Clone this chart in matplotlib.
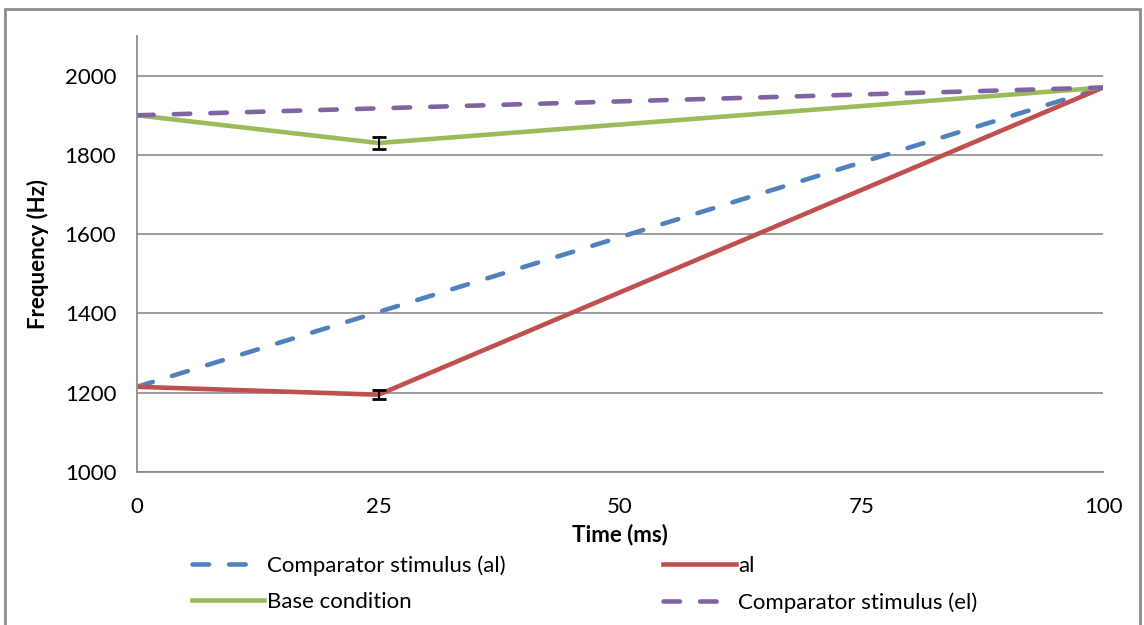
import matplotlib.pyplot as plt
from matplotlib.patches import Rectangle

# time points (ms)
time_ms = [0, 25, 100]
time_cmp = [0, 100]

# frequencies (Hz)
freq_cmp_al = [1215, 1970]
freq_al = [1215, 1195, 1970]
freq_base = [1900, 1830, 1970]
freq_cmp_el = [1900, 1970]

# error bars at 25 ms
err_al = [0, 12, 0]
err_base = [0, 15, 0]

blue = "#4F81BD"
red = "#C0504D"
green = "#9BBB59"
purple = "#8064A2"
gray = "#8C8C8C"

plt.rcParams["font.family"] = ["Lato", "DejaVu Sans"]
fs = 16

fig = plt.figure(figsize=(11.44, 6.25), dpi=100)
ax = fig.add_axes([0.1198, 0.2448, 0.8444, 0.6976])

lw = 3.3
l1, = ax.plot(time_cmp, freq_cmp_al, color=blue, lw=lw, dashes=(3.6, 4.4),
              dash_capstyle="round", label="Comparator stimulus (al)")
l2, = ax.plot(time_ms, freq_al, color=red, lw=lw, label="al")
l3, = ax.plot(time_ms, freq_base, color=green, lw=lw, label="Base condition")
l4, = ax.plot(time_cmp, freq_cmp_el, color=purple, lw=lw, dashes=(3.6, 4.4),
              dash_capstyle="round", label="Comparator stimulus (el)")

ax.errorbar(time_ms[1], freq_al[1], yerr=err_al[1], fmt="none", ecolor="black",
            elinewidth=1.5, capsize=5, capthick=2, zorder=5)
ax.errorbar(time_ms[1], freq_base[1], yerr=err_base[1], fmt="none", ecolor="black",
            elinewidth=1.5, capsize=5, capthick=2, zorder=5)

ax.set_xlim(0, 100)
ax.set_ylim(1000, 2100)
ax.set_xticks([0, 25, 50, 75, 100])
ax.set_yticks([1000, 1200, 1400, 1600, 1800, 2000])
ax.tick_params(length=0, labelsize=fs)
ax.tick_params(axis="y", pad=15)
ax.tick_params(axis="x", pad=18)
ax.grid(axis="y", color=gray, lw=1.2)
ax.set_axisbelow(True)
for s in ["top", "right"]:
    ax.spines[s].set_visible(False)
for s in ["left", "bottom"]:
    ax.spines[s].set_color(gray)
    ax.spines[s].set_linewidth(1.3)

ax.set_xlabel("Time (ms)", fontweight="bold", fontsize=fs, labelpad=5)
ax.set_ylabel("Frequency (Hz)", fontweight="bold", fontsize=fs, labelpad=11)

fig.legend(handles=[l1, l3, l2, l4], ncol=2, loc="upper left",
           bbox_to_anchor=(0.168, 0.111), frameon=False, fontsize=fs,
           handlelength=3.25, handletextpad=0.12, columnspacing=7.1,
           labelspacing=0.72, borderaxespad=0, borderpad=0)

# outer chart frame
fig.patches.append(Rectangle((5 / 1144, -0.1), 1135 / 1144, 1.1 - 9 / 625,
                             transform=fig.transFigure, fill=False,
                             edgecolor=gray, lw=2))

fig.savefig("out.png", dpi=100)
